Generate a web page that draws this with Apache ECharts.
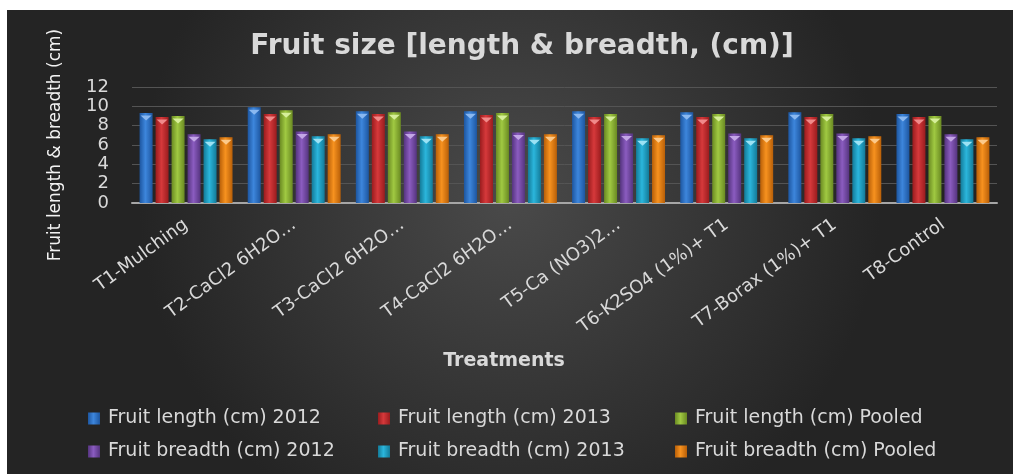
<!DOCTYPE html>
<html>
<head>
<meta charset="utf-8">
<script src="https://cdn.jsdelivr.net/npm/echarts@6/dist/echarts.min.js"></script>
<style>
	html, body { margin: 0; padding: 0; background: #fff; }
	#myChart { position: absolute; left: 7px; top: 10px; width: 1006px; height: 464px; }
</style>
</head>
<body>
<div id="myChart"></div>
<script>
	// 数据
	var categories = ['T1-Mulching', 'T2-CaCl2 6H2O…', 'T3-CaCl2 6H2O…', 'T4-CaCl2 6H2O…',
		'T5-Ca (NO3)2…', 'T6-K2SO4 (1%)+ T1', 'T7-Borax (1%)+ T1', 'T8-Control'];
	var seriesNames = ['Fruit length (cm) 2012', 'Fruit length (cm) 2013', 'Fruit length (cm) Pooled',
		'Fruit breadth (cm) 2012', 'Fruit breadth (cm) 2013', 'Fruit breadth (cm) Pooled'];
	var length2012 = [9.3, 9.9, 9.5, 9.5, 9.5, 9.4, 9.4, 9.2];
	var length2013 = [8.9, 9.2, 9.2, 9.1, 8.9, 8.9, 8.9, 8.9];
	var lengthPooled = [9.0, 9.6, 9.4, 9.3, 9.2, 9.2, 9.2, 9.0];
	var breadth2012 = [7.1, 7.4, 7.4, 7.3, 7.2, 7.2, 7.2, 7.1];
	var breadth2013 = [6.6, 6.9, 6.9, 6.8, 6.7, 6.7, 6.7, 6.6];
	var breadthPooled = [6.8, 7.1, 7.1, 7.1, 7.0, 7.0, 6.9, 6.8];
	var yTicks = [0, 2, 4, 6, 8, 10, 12];

	var allData = [length2012, length2013, lengthPooled, breadth2012, breadth2013, breadthPooled];
	// 每个系列: [边缘, 中间, 顶部三角]
	var palette = [
		['#1d56a0', '#3d86dc', '#8ab8f0'],
		['#9a1c1e', '#d6393b', '#f08a8a'],
		['#6a8a22', '#a0c942', '#d6ee9a'],
		['#55347f', '#8b5cc0', '#c3a6e6'],
		['#137a98', '#2bb6dc', '#9be2f4'],
		['#b85f08', '#f7921f', '#fcc98a']
	];

	function grad(c) {
		return new echarts.graphic.LinearGradient(0, 0, 1, 0, [
			{offset: 0, color: c[0]},
			{offset: 0.45, color: c[1]},
			{offset: 1, color: c[0]}
		]);
	}

	var myChart = echarts.init(document.getElementById('myChart'));
	var font = 'DejaVu Sans';
	var series = [];
	seriesNames.forEach(function (name, i) {
		series.push({
			name: name,
			type: 'bar',
			barWidth: 13,
			barGap: '23%',
			barCategoryGap: '13%',
			itemStyle: {color: grad(palette[i])},
			data: allData[i]
		});
	});
	// 柱顶的小三角
	seriesNames.forEach(function (name, i) {
		series.push({
			name: name + ' top',
			type: 'pictorialBar',
			symbol: 'triangle',
			symbolRotate: 180,
			symbolSize: [11, 5],
			symbolPosition: 'end',
			symbolOffset: [0, '50%'],
			barWidth: 13,
			barGap: '23%',
			barCategoryGap: '13%',
			itemStyle: {color: palette[i][2]},
			silent: true,
			z: 3,
			data: allData[i]
		});
	});

	function legendCol(x, names) {
		return {
			orient: 'vertical',
			left: x,
			top: 394,
			itemWidth: 12,
			itemHeight: 12,
			itemGap: 14,
			icon: 'rect',
			data: names,
			textStyle: {color: '#d9d9d9', fontFamily: font, fontSize: 19, padding: [0, 0, 0, 3]}
		};
	}

	var option = {
		backgroundColor: new echarts.graphic.RadialGradient(0.5, 0.4, 0.8, [
			{offset: 0, color: '#4a4a4a'},
			{offset: 1, color: '#242424'}
		]),
		title: [{
			text: 'Fruit size [length & breadth, (cm)]',
			left: 510,
			top: 18,
			textAlign: 'center',
			textStyle: {color: '#d9d9d9', fontFamily: font, fontSize: 28, fontWeight: 'bold'}
		}, {
			text: 'Treatments',
			left: 492,
			top: 337,
			textAlign: 'center',
			textStyle: {color: '#d9d9d9', fontFamily: font, fontSize: 19, fontWeight: 'bold'}
		}],
		legend: [
			legendCol(76, [seriesNames[0], seriesNames[3]]),
			legendCol(366, [seriesNames[1], seriesNames[4]]),
			legendCol(663, [seriesNames[2], seriesNames[5]])
		],
		grid: {left: 125, right: 16, top: 77, bottom: 271, containLabel: false},
		xAxis: {
			type: 'category',
			data: categories,
			axisTick: {show: false},
			axisLine: {lineStyle: {color: '#a6a6a6', width: 2}},
			axisLabel: {
				rotate: 36,
				interval: 0,
				margin: 20,
				color: '#d9d9d9',
				fontFamily: font,
				fontSize: 18
			}
		},
		yAxis: {
			type: 'value',
			min: yTicks[0],
			max: yTicks[yTicks.length - 1],
			interval: 2,
			name: 'Fruit length & breadth (cm)',
			nameLocation: 'middle',
			nameGap: 68,
			nameTextStyle: {color: '#f2f2f2', fontFamily: font, fontSize: 17},
			axisLine: {show: false},
			axisTick: {show: false},
			splitLine: {lineStyle: {color: '#545454', width: 1}},
			axisLabel: {margin: 23, color: '#d9d9d9', fontFamily: font, fontSize: 18}
		},
		series: series
	};
	window.onresize = myChart.resize;
	myChart.setOption(option);
</script>
</body>
</html>
